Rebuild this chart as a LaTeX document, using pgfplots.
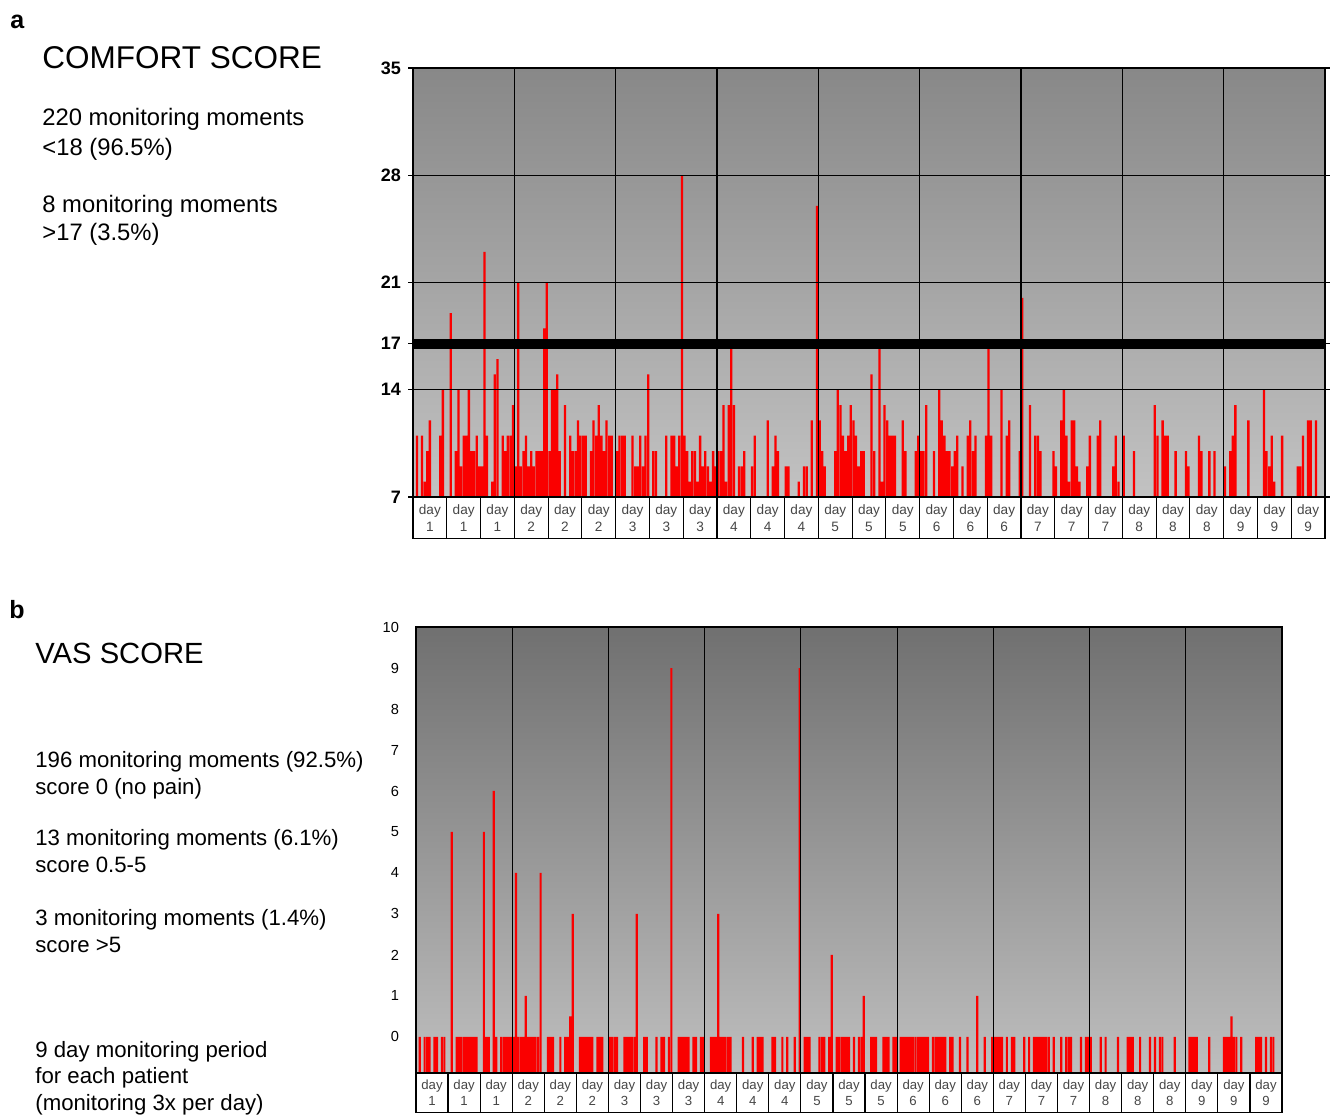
\documentclass[border=0pt]{standalone}
\usepackage{pgfplots}
\pgfplotsset{compat=1.18}
\usepackage{pgfplotstable}
\usepackage{fontspec}
\setmainfont{Liberation Sans}
\definecolor{barred}{RGB}{250,0,0}
\definecolor{topA}{RGB}{136,136,136}
\definecolor{botA}{RGB}{194,194,194}
\definecolor{topB}{RGB}{112,112,112}
\definecolor{botB}{RGB}{190,190,190}
\definecolor{daytext}{RGB}{70,70,70}

\pgfplotstableread[row sep=\\]{
slot score\\
1 11\\ 3 11\\ 4 8\\ 5 10\\ 6 12\\ 10 11\\ 11 14\\ 14 19\\ 16 10\\ 17 14\\ 18 9\\ 19 11\\ 20 11\\ 21 14\\ 22 10\\ 23 10\\ 24 11\\ 25 9\\ 26 9\\
27 23\\ 28 11\\ 30 8\\ 31 15\\ 32 16\\ 34 11\\ 35 10\\ 36 11\\ 37 11\\ 38 13\\ 39 9\\ 40 21\\ 41 9\\ 42 10\\ 43 11\\ 44 9\\ 45 10\\ 46 9\\
47 10\\ 48 10\\ 49 10\\ 50 18\\ 51 21\\ 52 10\\ 53 14\\ 54 14\\ 55 15\\ 56 10\\ 58 13\\ 60 11\\ 61 10\\ 62 10\\ 63 12\\ 64 11\\ 65 11\\ 66 11\\
68 10\\ 69 12\\ 70 11\\ 71 13\\ 72 11\\ 73 10\\ 74 12\\ 75 11\\ 76 11\\ 78 10\\ 79 11\\ 80 11\\ 81 11\\ 84 11\\ 85 9\\ 86 9\\ 87 11\\ 88 9\\
89 11\\ 90 15\\ 92 10\\ 93 10\\ 97 11\\ 99 11\\ 100 11\\ 101 9\\ 102 11\\ 103 28\\ 104 11\\ 105 10\\ 106 8\\ 107 10\\ 108 10\\ 109 8\\ 110 11\\
111 9\\ 112 10\\ 113 9\\ 114 8\\ 115 10\\ 116 9\\ 117 10\\ 118 10\\ 119 13\\ 120 8\\ 121 13\\ 122 17\\ 123 13\\ 125 9\\ 126 9\\ 127 10\\ 130 9\\
131 11\\ 136 12\\ 138 9\\ 139 11\\ 140 10\\ 143 9\\ 144 9\\ 148 8\\ 150 9\\ 151 9\\ 153 12\\ 155 26\\ 156 12\\ 157 10\\ 158 9\\ 162 10\\ 163 14\\
164 13\\ 165 11\\ 166 10\\ 167 11\\ 168 13\\ 169 12\\ 170 11\\ 171 9\\ 172 10\\ 173 10\\ 176 15\\ 177 10\\ 179 17\\ 180 8\\ 181 13\\ 182 12\\
183 11\\ 184 11\\ 185 11\\ 188 12\\ 189 10\\ 193 10\\ 194 11\\ 195 10\\ 196 10\\ 197 13\\ 200 10\\ 202 14\\ 203 12\\ 204 11\\ 205 10\\ 206 10\\
207 9\\ 208 10\\ 209 11\\ 211 9\\ 213 11\\ 214 12\\ 215 10\\ 216 11\\ 220 11\\ 221 17\\ 222 11\\ 226 14\\ 228 11\\ 229 12\\ 233 10\\ 234 20\\
237 13\\ 239 11\\ 240 11\\ 241 10\\ 246 10\\ 247 9\\ 249 12\\ 250 14\\ 251 11\\ 252 8\\ 253 12\\ 254 12\\ 255 9\\ 256 8\\ 259 9\\ 260 11\\
263 11\\ 264 12\\ 269 9\\ 270 11\\ 271 8\\ 273 11\\ 277 10\\ 285 13\\ 286 11\\ 288 12\\ 289 11\\ 290 11\\ 293 10\\ 297 10\\ 298 9\\ 302 11\\
303 10\\ 306 10\\ 308 10\\ 312 9\\ 314 10\\ 315 11\\ 316 13\\ 321 12\\ 327 14\\ 328 10\\ 329 9\\ 330 11\\ 331 8\\ 334 11\\ 340 9\\ 341 9\\
342 11\\ 344 12\\ 345 12\\ 347 12\\
}\comfort

\pgfplotstableread[row sep=\\]{
slot vas\\
1 0\\ 3 0\\ 4 0\\ 5 0\\ 7 0\\ 8 0\\ 10 0\\ 11 0\\ 14 5\\ 16 0\\ 17 0\\ 18 0\\ 19 0\\ 20 0\\ 21 0\\ 22 0\\ 23 0\\ 24 0\\ 27 5\\ 28 0\\ 29 0\\
31 6\\ 32 0\\ 34 0\\ 35 0\\ 36 0\\ 37 0\\ 38 0\\ 39 0\\ 40 4\\ 41 0\\ 42 0\\ 43 0\\ 44 1\\ 45 0\\ 46 0\\ 47 0\\ 48 0\\ 49 0\\ 50 4\\ 53 0\\
54 0\\ 55 0\\ 58 0\\ 60 0\\ 61 0\\ 62 0.5\\ 63 3\\ 66 0\\ 67 0\\ 68 0\\ 69 0\\ 70 0\\ 71 0\\ 73 0\\ 74 0\\ 75 0\\ 78 0\\ 79 0\\ 80 0\\ 81 0\\
84 0\\ 85 0\\ 86 0\\ 87 0\\ 88 0\\ 89 3\\ 92 0\\ 93 0\\ 97 0\\ 99 0\\ 100 0\\ 102 0\\ 103 9\\ 106 0\\ 107 0\\ 108 0\\ 109 0\\ 110 0\\ 112 0\\
113 0\\ 115 0\\ 116 0\\ 119 0\\ 120 0\\ 121 0\\ 122 3\\ 123 0\\ 124 0\\ 125 0\\ 126 0\\ 127 0\\ 132 0\\ 136 0\\ 138 0\\ 139 0\\ 140 0\\ 144 0\\
145 0\\ 148 0\\ 150 0\\ 153 0\\ 155 9\\ 157 0\\ 158 0\\ 159 0\\ 163 0\\ 164 0\\ 165 0\\ 167 0\\ 168 2\\ 170 0\\ 171 0\\ 172 0\\ 173 0\\ 174 0\\
175 0\\ 177 0\\ 179 0\\ 180 0\\ 181 1\\ 184 0\\ 185 0\\ 186 0\\ 189 0\\ 190 0\\ 191 0\\ 193 0\\ 194 0\\ 196 0\\ 197 0\\ 198 0\\ 199 0\\ 200 0\\
201 0\\ 202 0\\ 203 0\\ 204 0\\ 205 0\\ 206 0\\ 207 0\\ 209 0\\ 210 0\\ 211 0\\ 212 0\\ 213 0\\ 214 0\\ 216 0\\ 217 0\\ 220 0\\ 223 0\\ 227 1\\
230 0\\ 233 0\\ 234 0\\ 235 0\\ 236 0\\ 237 0\\ 239 0\\ 241 0\\ 242 0\\ 246 0\\ 248 0\\ 250 0\\ 251 0\\ 252 0\\ 253 0\\ 254 0\\ 255 0\\ 256 0\\
258 0\\ 261 0\\ 263 0\\ 264 0\\ 265 0\\ 269 0\\ 271 0\\ 272 0\\ 273 0\\ 277 0\\ 279 0\\ 284 0\\ 288 0\\ 289 0\\ 290 0\\ 293 0\\ 297 0\\ 299 0\\
301 0\\ 302 0\\ 307 0\\ 313 0\\ 314 0\\ 315 0\\ 316 0\\ 321 0\\ 327 0\\ 328 0\\ 329 0\\ 330 0.5\\ 331 0\\ 332 0\\ 334 0\\ 340 0\\ 341 0\\
342 0\\ 344 0\\ 346 0\\ 347 0\\
}\vas

\pgfplotsset{
  daybox/.style={
    xtick={6,19,...,344},
    xticklabels={{day\\1},{day\\1},{day\\1},{day\\2},{day\\2},{day\\2},{day\\3},{day\\3},{day\\3},
                 {day\\4},{day\\4},{day\\4},{day\\5},{day\\5},{day\\5},{day\\6},{day\\6},{day\\6},
                 {day\\7},{day\\7},{day\\7},{day\\8},{day\\8},{day\\8},{day\\9},{day\\9},{day\\9}},
    xtick style={draw=none},
    minor xtick={38.5,77.5,116.5,155.5,194.5,233.5,272.5,311.5},
    xminorgrids,
    minor tick length=0pt,
    minor grid style={black, line width=0.6pt},
    axis line style={black, line width=0.8pt},
    /pgf/number format/assume math mode=true,
  }
}

\begin{document}
\begin{tikzpicture}
\useasboundingbox (0,0) rectangle (665pt,-557.5pt);
\begin{scope}[x=0.5pt,y=-0.5pt,every node/.style={anchor=base west,inner sep=0pt}]
\node[font=\fontsize{12.5}{14}\selectfont\bfseries] at (10,28) {a};
\node[font=\fontsize{15.75}{18}\selectfont] at (42,68) {COMFORT SCORE};
\node[font=\fontsize{11.9}{14}\selectfont] at (42,125) {220 monitoring moments};
\node[font=\fontsize{11.9}{14}\selectfont] at (42,155) {<18 (96.5\%)};
\node[font=\fontsize{11.9}{14}\selectfont] at (42,212) {8 monitoring moments};
\node[font=\fontsize{11.9}{14}\selectfont] at (42,240) {>17 (3.5\%)};
\node[font=\fontsize{12.5}{14}\selectfont\bfseries] at (9,618) {b};
\node[font=\fontsize{14.6}{17}\selectfont] at (35,663) {VAS SCORE};
\node[font=\fontsize{11.1}{13}\selectfont] at (35,767) {196 monitoring moments (92.5\%)};
\node[font=\fontsize{11.1}{13}\selectfont] at (35,794) {score 0 (no pain)};
\node[font=\fontsize{11.1}{13}\selectfont] at (35,845) {13 monitoring moments (6.1\%)};
\node[font=\fontsize{11.1}{13}\selectfont] at (35,872) {score 0.5-5};
\node[font=\fontsize{11.1}{13}\selectfont] at (35,925) {3 monitoring moments (1.4\%)};
\node[font=\fontsize{11.1}{13}\selectfont] at (35,952) {score >5};
\node[font=\fontsize{11.1}{13}\selectfont] at (35,1057) {9 day monitoring period};
\node[font=\fontsize{11.1}{13}\selectfont] at (35,1083) {for each patient};
\node[font=\fontsize{11.1}{13}\selectfont] at (35,1110) {(monitoring 3x per day)};
\end{scope}

% panel a
\begin{axis}[
  at={(206.5pt,-248.5pt)}, anchor=south west, scale only axis,
  width=456pt, height=214.5pt,
  xmin=-0.5, xmax=350.5, ymin=7, ymax=35,
  axis background/.style={top color=topA, bottom color=botA},
  daybox,
  ytick={7,14,17,21,28,35},
  ymajorgrids, major grid style={black, line width=0.7pt},
  tick align=outside, major tick length=2.5pt,
  ytick style={black, line width=0.7pt},
  yticklabel style={font=\fontsize{9}{9}\selectfont\bfseries},
  xticklabel shift=-2.5pt,
  xticklabel style={draw=black, line width=0.6pt, fill=white, text=daytext, align=center,
    minimum width=16.9pt, minimum height=20.5pt, inner sep=0pt, anchor=north,
    font=\fontsize{6.8}{8.5}\selectfont},
  axis on top,
]
\addplot[ybar, bar width=0.88, fill=barred, draw=none] table[x=slot, y=score] {\comfort};
\addplot[black, line width=5pt, forget plot] coordinates {(-0.5,17) (350.5,17)};
\end{axis}

% panel b
\begin{axis}[
  at={(208pt,-536.5pt)}, anchor=south west, scale only axis,
  width=433pt, height=223pt,
  xmin=-0.5, xmax=350.5, ymin=-0.88, ymax=10,
  y coord trafo/.code={\pgfmathparse{#1+1}},
  y coord inv trafo/.code={\pgfmathparse{#1-1}},
  axis background/.style={top color=topB, bottom color=botB},
  daybox,
  ytick={0,1,2,3,4,5,6,7,8,9,10},
  yticklabels={0,1,2,3,4,5,6,7,8,9,10},
  ytick style={draw=none},
  yticklabel style={font=\fontsize{7.3}{8}\selectfont, xshift=-5pt},
  xticklabel style={draw=black, line width=0.6pt, fill=white, text=daytext, align=center,
    minimum width=16.05pt, minimum height=19.5pt, inner sep=0pt, anchor=north,
    font=\fontsize{6.6}{8}\selectfont},
  axis on top,
]
\addplot[ybar, bar width=0.88, fill=barred, draw=none] table[x=slot, y=vas] {\vas};
\end{axis}
\end{tikzpicture}
\end{document}
